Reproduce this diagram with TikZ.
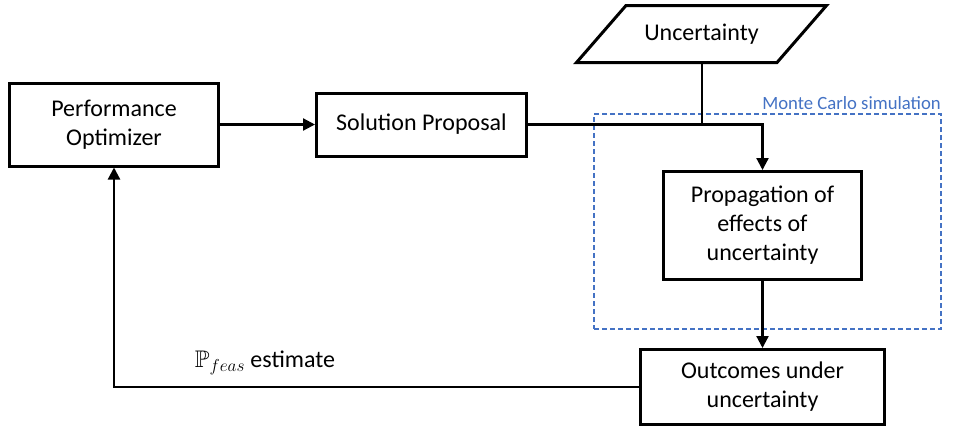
\documentclass[tikz,border=0pt]{standalone}
\usepackage{amssymb}
\usepackage{fontspec}
\setmainfont{Carlito}
\usetikzlibrary{arrows.meta,positioning}
\definecolor{mcblue}{HTML}{4472C4}
\begin{document}
\begin{tikzpicture}[x=1pt,y=-1pt,
  every node/.style={font=\fontsize{24}{29}\selectfont},
  box/.style={draw=black,line width=3pt,align=center,inner sep=2pt,fill=white},
  conn/.style={draw=black,line width=2.2pt},
  arr/.style={conn,-{Triangle[length=12pt,width=12pt]}},
  mcbox/.style={draw=mcblue,line width=2pt,dash pattern=on 5pt off 3pt},
  mclabel/.style={text=mcblue,font=\fontsize{18.7}{22}\selectfont,inner sep=1pt}]
\useasboundingbox (0,0) rectangle (957,429);
% Monte Carlo region
\node[mcbox,minimum width=347pt,minimum height=215pt,inner sep=0pt] (mc) at (767.5,221.5) {};
\node[mclabel,anchor=south east] (mcl) at ([yshift=2pt]mc.north east) {Monte Carlo simulation};
% nodes
\node[box,minimum width=209pt,minimum height=83pt] (po) at (114,124.5) {Performance\\Optimizer};
\node[box,minimum width=210pt,minimum height=63pt] (sp) at (421.5,124.5) {Solution Proposal};
\node[box,minimum width=198pt,minimum height=108pt] (prop) at (762.5,225.5) {Propagation of\\effects of\\uncertainty};
\node[box,minimum width=244pt,minimum height=75pt] (out) at (762.5,387) {Outcomes under\\uncertainty};
\node[inner sep=0pt] (unc) at (701.5,34) {Uncertainty};
\draw[line width=3pt,line join=miter] (576.5,62.5) -- (626,5.5) -- (826.5,5.5) -- (777,62.5) -- cycle;
\coordinate (uncb) at (702,62.5);
\node[inner sep=0pt] (pl) at (265,363) {$\mathbb{P}_{feas}$ estimate};
% connectors
\draw[arr] (po.east) -- (sp.west);
\draw[arr] (sp.east) -| (prop.north);
\draw[conn] (uncb) -- (uncb |- sp.east);
\draw[arr] (prop.south) -- (out.north);
\draw[arr] (out.west) -| (po.south);
\end{tikzpicture}
\end{document}
